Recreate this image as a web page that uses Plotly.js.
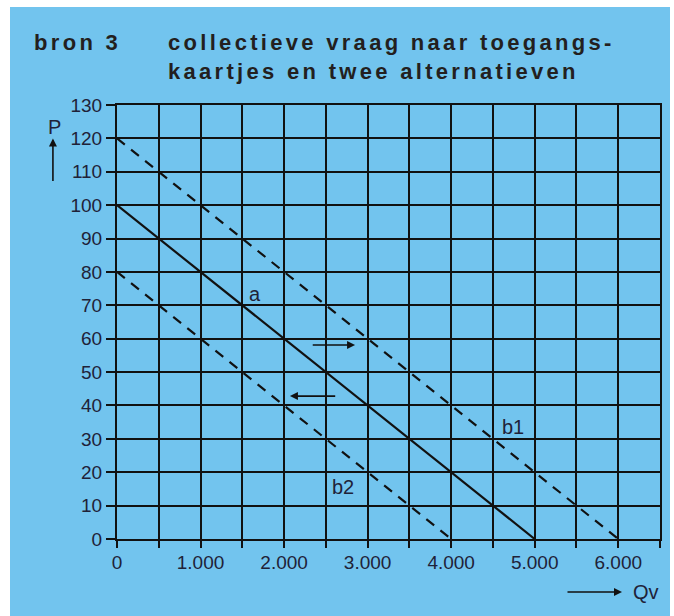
<!DOCTYPE html>
<html>
<head>
<meta charset="utf-8">
<script src="https://cdn.plot.ly/plotly-3.0.1.min.js"></script>
<style>
  html, body { margin: 0; padding: 0; background: #ffffff; }
  #chart { position: absolute; left: 10px; top: 7px; width: 660px; height: 609px; }
  .gtitle { letter-spacing: 3.3px; }
  g.annotation[data-index="0"] text { letter-spacing: 3.3px; }
</style>
</head>
<body>
<div id="chart"></div>
<script>
// ---- data ----
const lineA_Q = [0, 5000];
const lineA_P = [100, 0];
const lineB1_Q = [0, 6000];
const lineB1_P = [120, 0];
const lineB2_Q = [0, 4000];
const lineB2_P = [80, 0];

const xTickVals = [0, 500, 1000, 1500, 2000, 2500, 3000, 3500, 4000, 4500, 5000, 5500, 6000, 6500];
const xTickText = ['0', '', '1.000', '', '2.000', '', '3.000', '', '4.000', '', '5.000', '', '6.000', ''];
const yTickVals = [0, 10, 20, 30, 40, 50, 60, 70, 80, 90, 100, 110, 120, 130];
const yTickText = ['0', '10', '20', '30', '40', '50', '60', '70', '80', '90', '100', '110', '120', '130'];

const labelText = ['a', 'b1', 'b2'];
const labelQ = [1650, 4745, 2705];
const labelP = [73.4, 33.6, 15.6];

const shiftRight = { fromQ: 2325, toQ: 2850, P: 58.1 };
const shiftLeft = { fromQ: 2630, toQ: 2070, P: 42.8 };

// ---- styles ----
const BG = '#72c4ee';
const INK = '#111111';
const TXT = '#1f2238';
const FONT = 'Liberation Sans, Arial, sans-serif';

const traces = [
  { x: lineA_Q, y: lineA_P, mode: 'lines', line: { color: INK, width: 2.2 }, hoverinfo: 'skip', showlegend: false },
  { x: lineB1_Q, y: lineB1_P, mode: 'lines', line: { color: INK, width: 2.2, dash: '10px,8px' }, hoverinfo: 'skip', showlegend: false },
  { x: lineB2_Q, y: lineB2_P, mode: 'lines', line: { color: INK, width: 2.2, dash: '10px,8px' }, hoverinfo: 'skip', showlegend: false }
];

const annotations = [
  { text: '<b>bron 3</b>', xref: 'paper', yref: 'paper', x: -0.138, y: 1.145, xanchor: 'left', yanchor: 'middle',
    showarrow: false, font: { family: FONT, size: 22, color: '#231f20' } },
  { text: 'P', xref: 'paper', yref: 'paper', x: -0.116, y: 0.950, xanchor: 'center', yanchor: 'middle',
    showarrow: false, font: { family: FONT, size: 20, color: TXT } },
  { text: '', xref: 'paper', yref: 'paper', x: -0.118, y: 0.923, ax: 0, ay: 44,
    showarrow: true, arrowhead: 2, arrowsize: 1, arrowwidth: 1.6, arrowcolor: INK },
  { text: 'Qv', xref: 'paper', yref: 'paper', x: 0.975, y: -0.122, xanchor: 'center', yanchor: 'middle',
    showarrow: false, font: { family: FONT, size: 20, color: TXT } },
  { text: '', xref: 'paper', yref: 'paper', x: 0.930, y: -0.122, ax: -56, ay: 0,
    showarrow: true, arrowhead: 2, arrowsize: 1, arrowwidth: 1.6, arrowcolor: INK },
  { text: '', xref: 'x', yref: 'y', axref: 'x', ayref: 'y', x: shiftRight.toQ, y: shiftRight.P, ax: shiftRight.fromQ, ay: shiftRight.P,
    showarrow: true, arrowhead: 2, arrowsize: 1, arrowwidth: 1.6, arrowcolor: INK },
  { text: '', xref: 'x', yref: 'y', axref: 'x', ayref: 'y', x: shiftLeft.toQ, y: shiftLeft.P, ax: shiftLeft.fromQ, ay: shiftLeft.P,
    showarrow: true, arrowhead: 2, arrowsize: 1, arrowwidth: 1.6, arrowcolor: INK }
];
labelText.forEach((t, i) => {
  annotations.push({ text: t, xref: 'x', yref: 'y', x: labelQ[i], y: labelP[i], showarrow: false,
    xanchor: 'center', yanchor: 'middle', font: { family: FONT, size: 20, color: TXT } });
});

const layout = {
  width: 660, height: 609,
  margin: { l: 107, r: 10, t: 98, b: 77 },
  paper_bgcolor: BG, plot_bgcolor: BG,
  title: {
    text: '<b>collectieve vraag naar toegangs-<br>kaartjes en twee alternatieven</b>',
    xref: 'container', yref: 'container', x: 0.2394, y: 0.929, xanchor: 'left', yanchor: 'top',
    font: { family: FONT, size: 22, color: '#231f20' }
  },
  xaxis: {
    range: [0, 6500], tickmode: 'array', tickvals: xTickVals, ticktext: xTickText,
    showgrid: true, gridcolor: INK, gridwidth: 2, zeroline: false,
    showline: true, linecolor: INK, linewidth: 2, mirror: true,
    ticks: 'outside', ticklen: 7, tickwidth: 2, tickcolor: INK, ticklabelstandoff: -2,
    tickfont: { family: FONT, size: 19, color: TXT }, fixedrange: true
  },
  yaxis: {
    range: [0, 130], tickmode: 'array', tickvals: yTickVals, ticktext: yTickText,
    showgrid: true, gridcolor: INK, gridwidth: 2, zeroline: false,
    showline: true, linecolor: INK, linewidth: 2, mirror: true,
    ticks: 'outside', ticklen: 9, tickwidth: 2, tickcolor: INK,
    tickfont: { family: FONT, size: 19, color: TXT }, fixedrange: true
  },
  annotations: annotations,
  showlegend: false
};

Plotly.newPlot('chart', traces, layout, { displayModeBar: false, staticPlot: true });
</script>
</body>
</html>
